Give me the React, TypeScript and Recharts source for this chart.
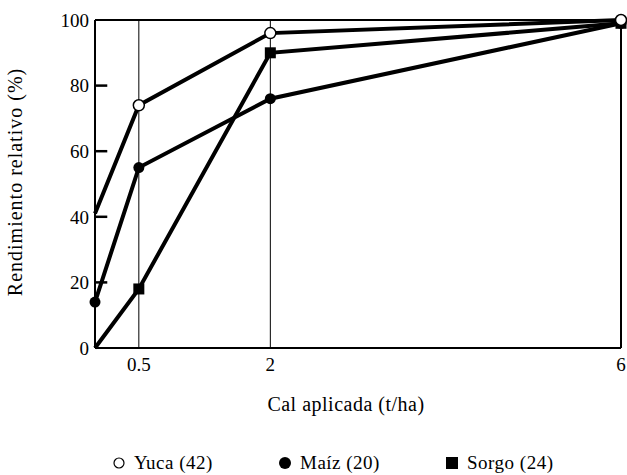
import React from 'react';
import { LineChart, Line, XAxis, YAxis, ReferenceLine, Legend } from 'recharts';

const doses = [0, 0.5, 2, 6];
const yuca = [41, 74, 96, 100];
const maiz = [14, 55, 76, 99];
const sorgo = [0, 18, 90, 99];
const xTicks = [0.5, 2, 6];
const yTicks = [0, 20, 40, 60, 80, 100];

const data = doses.map((d, i) => ({ dose: d, yuca: yuca[i], maiz: maiz[i], sorgo: sorgo[i] }));

const FONT = 'Liberation Serif';
const TICK_LEN = 0.14; // inward tick length, in x units

type Shape = 'open' | 'dot' | 'square';

const series: { key: string; name: string; shape: Shape; hideFirst: boolean }[] = [
  { key: 'maiz', name: 'Maíz (20)', shape: 'dot', hideFirst: false },
  { key: 'sorgo', name: 'Sorgo (24)', shape: 'square', hideFirst: true },
  { key: 'yuca', name: 'Yuca (42)', shape: 'open', hideFirst: true },
];
const legendOrder = ['yuca', 'maiz', 'sorgo'];

const Marker = ({ cx, cy, shape }: { cx: number; cy: number; shape: Shape }) => {
  if (shape === 'square') return <rect x={cx - 5.5} y={cy - 5.5} width={11} height={11} fill="#000" />;
  if (shape === 'open') return <circle cx={cx} cy={cy} r={5.5} fill="#fff" stroke="#000" strokeWidth={1.5} />;
  return <circle cx={cx} cy={cy} r={5.5} fill="#000" />;
};

const makeDot = (shape: Shape, hideFirst: boolean) => (props: any) => {
  const { cx, cy, index } = props;
  if (hideFirst && index === 0) return <g key={`d-${index}`} />;
  return <g key={`d-${index}`}><Marker cx={cx} cy={cy} shape={shape} /></g>;
};

const LegendIcon = ({ shape }: { shape: Shape }) => (
  <svg width={14} height={14} style={{ marginRight: 8, verticalAlign: 'middle' }}>
    {shape === 'square' && <rect x={1} y={1} width={12} height={12} fill="#000" />}
    {shape === 'open' && <circle cx={7} cy={7} r={5} fill="#fff" stroke="#000" strokeWidth={1.2} />}
    {shape === 'dot' && <circle cx={7} cy={7} r={6} fill="#000" />}
  </svg>
);

const renderLegend = () => (
  <div style={{ height: 24, lineHeight: '24px', fontFamily: FONT, fontSize: 19, display: 'flex', paddingLeft: 112 }}>
    {legendOrder.map((k, i) => {
      const s = series.find((x) => x.key === k)!;
      return (
        <span key={k} style={{ display: 'inline-flex', alignItems: 'center', width: i === 0 ? 166 : 167, letterSpacing: 0.5 }}>
          <LegendIcon shape={s.shape} />
          {s.name}
        </span>
      );
    })}
  </div>
);

const App = () => {
  return (
    <div style={{ position: 'absolute', left: 0, top: 0, background: '#fff' }}>
      <LineChart width={627} height={475} data={data} margin={{ top: 20, right: 6, left: 0, bottom: 0 }}>
        <XAxis
          dataKey="dose"
          type="number"
          domain={[0, 6]}
          ticks={xTicks}
          tickLine={false}
          tickMargin={4}
          height={103}
          axisLine={{ stroke: '#000', strokeWidth: 2 }}
          tick={{ fill: '#000', fontFamily: FONT, fontSize: 19 }}
          label={(p: any) => {
            const vb = p.viewBox;
            return (
              <text x={vb.x + vb.width / 2 - 12} y={411} textAnchor="middle" fontFamily={FONT} fontSize={20} letterSpacing={0.5} fill="#000">
                Cal aplicada (t/ha)
              </text>
            );
          }}
        />
        <YAxis
          type="number"
          domain={[0, 100]}
          ticks={yTicks}
          width={95}
          tickSize={0}
          tickMargin={6}
          tickLine={false}
          axisLine={{ stroke: '#000', strokeWidth: 2 }}
          tick={{ fill: '#000', fontFamily: FONT, fontSize: 19 }}
          label={() => (
            <text x={22} y={182} transform="rotate(-90 22 182)" textAnchor="middle" fontFamily={FONT} fontSize={20} letterSpacing={1} fill="#000">
              Rendimiento relativo (%)
            </text>
          )}
        />
        <ReferenceLine x={0.5} stroke="#000" strokeWidth={1} />
        <ReferenceLine x={2} stroke="#000" strokeWidth={1} />
        <ReferenceLine y={100} stroke="#000" strokeWidth={2} />
        <ReferenceLine x={6} stroke="#000" strokeWidth={2} />
        {yTicks
          .filter((v) => v > 0 && v < 100)
          .map((v) => (
            <ReferenceLine
              key={`tk-${v}`}
              segment={[{ x: 0, y: v }, { x: TICK_LEN, y: v }]}
              stroke="#000"
              strokeWidth={2.5}
            />
          ))}
        <Legend verticalAlign="bottom" align="left" content={renderLegend} />
        {series.map((s) => (
          <Line
            key={s.key}
            dataKey={s.key}
            name={s.name}
            type="linear"
            stroke="#000"
            strokeWidth={4}
            dot={makeDot(s.shape, s.hideFirst)}
            activeDot={false}
            isAnimationActive={false}
          />
        ))}
      </LineChart>
    </div>
  );
};

export default App;
